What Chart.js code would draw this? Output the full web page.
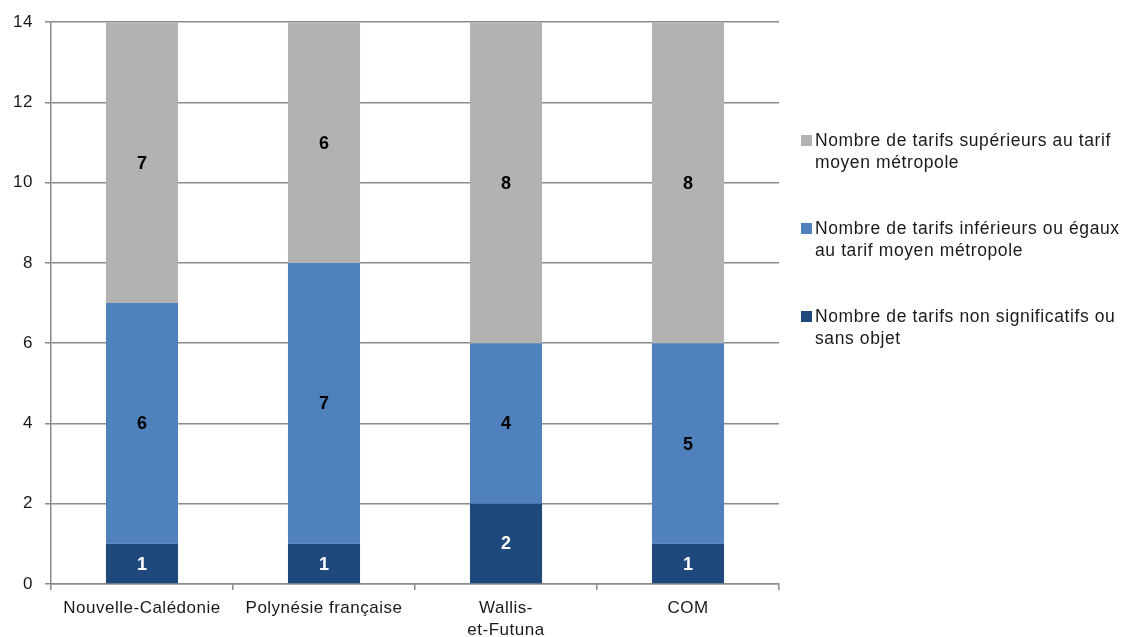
<!DOCTYPE html>
<html lang="fr">
<head>
<meta charset="utf-8">
<script src="https://cdn.jsdelivr.net/npm/chart.js@4/dist/chart.umd.min.js"></script>
<style>
  html, body { margin: 0; padding: 0; background: #fff; }
  #wrap { position: relative; width: 1123px; height: 637px; }
  #chart { position: absolute; left: 0; top: 0; }
  #legend { position: absolute; left: 801px; top: 129px; font-family: "Liberation Sans", Arial, sans-serif;
            font-size: 17.5px; color: #1a1a1a; line-height: 22px; letter-spacing: 0.6px; }
  .item { position: relative; padding-left: 14px; margin-bottom: 44px; width: 307px; }
  .sw { position: absolute; left: 0; top: 6px; width: 11px; height: 11px; }
</style>
</head>
<body>
<div id="wrap">
  <canvas id="chart" width="1123" height="637"></canvas>
  <div id="legend"></div>
</div>
<script>
// Territoires comparés
const categories = ['Nouvelle-Calédonie', 'Polynésie française', ['Wallis-', 'et-Futuna'], 'COM'];

// Nombre de tarifs par catégorie de comparaison
const nonSignificatifs = [1, 1, 2, 1];
const inferieursOuEgaux = [6, 7, 4, 5];
const superieurs = [7, 6, 8, 8];

const seriesNames = [
  'Nombre de tarifs non significatifs ou sans objet',
  'Nombre de tarifs inférieurs ou égaux au tarif moyen métropole',
  'Nombre de tarifs supérieurs au tarif moyen métropole'
];
const seriesColors = ['#1F497D', '#4F81BD', '#B2B2B2'];
const labelColors = ['#ffffff', '#000000', '#000000'];

const yTicks = [0, 2, 4, 6, 8, 10, 12, 14];

const FONT = '"Liberation Sans", Arial, sans-serif';

// Espacement des lettres pour tout le texte du canvas
const textSpacing = {
  id: 'textSpacing',
  beforeDraw(chart) { chart.ctx.letterSpacing = '0.5px'; }
};

// Valeurs inscrites au centre de chaque segment
const segmentLabels = {
  id: 'segmentLabels',
  afterDatasetsDraw(chart) {
    const ctx = chart.ctx;
    ctx.save();
    ctx.letterSpacing = '0px';
    ctx.font = 'bold 18px ' + FONT;
    ctx.textAlign = 'center';
    ctx.textBaseline = 'middle';
    chart.data.datasets.forEach((ds, i) => {
      const meta = chart.getDatasetMeta(i);
      meta.data.forEach((bar, j) => {
        const v = ds.data[j];
        if (!v) return;
        const c = bar.getCenterPoint();
        ctx.fillStyle = labelColors[i];
        ctx.fillText(String(v), c.x, c.y + 1);
      });
    });
    ctx.restore();
  }
};

const data = {
  labels: categories,
  datasets: [nonSignificatifs, inferieursOuEgaux, superieurs].map((vals, i) => ({
    label: seriesNames[i],
    data: vals,
    backgroundColor: seriesColors[i],
    borderWidth: 0,
    categoryPercentage: 1,
    barPercentage: 0.396
  }))
};

new Chart(document.getElementById('chart'), {
  type: 'bar',
  data,
  options: {
    responsive: false,
    animation: false,
    devicePixelRatio: 1,
    layout: { padding: { left: 12, right: 344, top: 15, bottom: 0 } },
    plugins: { legend: { display: false }, tooltip: { enabled: false } },
    scales: {
      x: {
        stacked: true,
        afterFit(axis) { axis.height = 53; },
        grid: { offset: true, drawOnChartArea: false, tickLength: 6, color: '#8A8A8A', lineWidth: 1.5 },
        border: { color: '#8A8A8A', width: 1.5 },
        ticks: { color: '#1a1a1a', font: { family: FONT, size: 17, lineHeight: 1.3 }, padding: 7, maxRotation: 0, autoSkip: false }
      },
      y: {
        stacked: true,
        min: 0,
        max: 14,
        afterBuildTicks(axis) { axis.ticks = yTicks.map(v => ({ value: v })); },
        afterFit(axis) { axis.width = 39; },
        grid: { color: '#8A8A8A', lineWidth: 1.5, tickLength: 6 },
        border: { color: '#8A8A8A', width: 1.5 },
        ticks: { color: '#1a1a1a', font: { family: FONT, size: 17 }, padding: 12 }
      }
    }
  },
  plugins: [textSpacing, segmentLabels]
});

// Légende à droite, dans l'ordre d'empilement inverse
const legend = document.getElementById('legend');
[2, 1, 0].forEach(i => {
  const item = document.createElement('div');
  item.className = 'item';
  const sw = document.createElement('span');
  sw.className = 'sw';
  sw.style.background = seriesColors[i];
  item.appendChild(sw);
  item.appendChild(document.createTextNode(seriesNames[i]));
  legend.appendChild(item);
});
</script>
</body>
</html>
